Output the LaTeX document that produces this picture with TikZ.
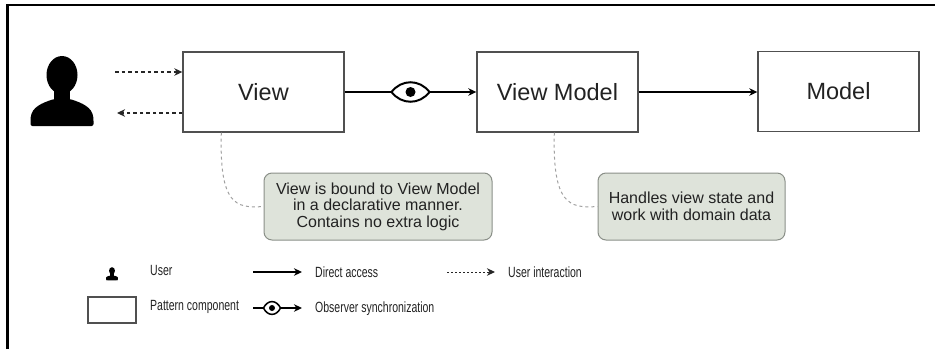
\documentclass[tikz,border=0pt]{standalone}
\usepackage{fontspec}
\setmainfont{Liberation Sans}
\newfontfamily\narrowfont[FakeStretch=0.71]{Liberation Sans}
\usetikzlibrary{arrows.meta,calc}
\definecolor{boxline}{HTML}{505050}
\definecolor{notefill}{HTML}{DEE3DA}
\definecolor{noteline}{HTML}{8A8F88}
\definecolor{linkgray}{HTML}{A0A0A0}
\definecolor{txt}{HTML}{222222}
\tikzset{
  comp/.style={draw=boxline, line width=1.4pt, fill=white, minimum width=161pt, minimum height=80pt, inner sep=0pt, font=\fontsize{23.5}{26}\selectfont, text=txt},
  note/.style={draw=noteline, line width=1pt, fill=notefill, rounded corners=8pt, inner sep=0pt, align=center, font=\fontsize{16}{16.5}\selectfont, text=txt},
  legtext/.style={anchor=west, inner sep=0pt, font=\narrowfont\fontsize{14.8}{16}\selectfont, text=txt},
  tip/.style={-{Stealth[length=8pt,width=7.5pt,inset=2.5pt]}},
  direct/.style={tip, line width=1.3pt, draw=black},
  userint/.style={tip, line width=1.2pt, draw=black!85, dash pattern=on 3.5pt off 3pt},
  userdot/.style={tip, line width=1pt, draw=black!85, dash pattern=on 2pt off 2pt},
  link/.style={draw=linkgray, line width=1pt, dash pattern=on 3pt off 3pt},
  eye/.pic={
    \filldraw[fill=white, draw=black, line width=2pt] (-19,0) .. controls (-9,-13) and (9,-13) .. (19,0) .. controls (9,13) and (-9,13) .. (-19,0);
    \fill[black] (0,0) circle (5);
  },
  smalleye/.pic={
    \filldraw[fill=white, draw=black, line width=1.5pt] (-8.5,0) .. controls (-4.5,-8.5) and (4.5,-8.5) .. (8.5,0) .. controls (4.5,8.5) and (-4.5,8.5) .. (-8.5,0);
    \fill[black] (0,0) circle (3);
  },
  person/.pic={
    \fill[black] (0,-17) ellipse (15.5 and 19);
    \fill[black] (-8,-6) rectangle (8,10);
    \fill[black, rounded corners=2pt] (-31.5,34) -- (-31.5,27) .. controls (-30,15) and (-20,11) .. (-8,7) -- (8,7) .. controls (20,11) and (30,15) .. (31.5,27) -- (31.5,34) -- cycle;
  }
}
\begin{document}
\begin{tikzpicture}[x=1pt,y=-1pt]
\useasboundingbox (0,0) rectangle (935,349);
% frame
\draw[line width=2.4pt, black] (7.5,349) -- (7.5,5) -- (935,5);

% user
\pic at (62,92) {person};
\coordinate (u1) at (115,72);
\coordinate (u2) at (117,113);

% components
\node[comp] (view) at (263.5,92) {View};
\node[comp] (vm) at (557.5,92) {View Model};
\node[comp] (model) at (838.5,91.5) {Model};

% user interaction
\draw[userint] (u1) -- (view.west |- u1);
\draw[userint] (view.west |- u2) -- (u2);

% observer sync
\draw[direct] (view.east) -- (vm.west) coordinate[pos=0.5] (eye1);
\pic at (eye1) {eye};
% direct access
\draw[direct] (vm.east) -- (model.west |- vm.east);

% notes
\node[note, minimum width=228pt, minimum height=67pt] (note1) at (378,206.5) {View is bound to View Model\\in a declarative manner.\\Contains no extra logic};
\node[note, minimum width=187pt, minimum height=67pt] (note2) at (691.5,206.5) {Handles view state and\\work with domain data};
\coordinate (v1) at ($(view.south west)+(39,0)$);
\coordinate (m1) at ($(vm.south west)+(78,0)$);
\draw[link] (v1) .. controls ($(v1)+(-2,72)$) and ($(note1.west)+(-28,2)$) .. (note1.west);
\draw[link] (m1) .. controls ($(m1)+(-2,72)$) and ($(note2.west)+(-28,2)$) .. (note2.west);

% legend
\pic[scale=0.19] at (112,274) {person};
\node[legtext] (lu) at (150,270) {User};
\node[draw=boxline, line width=1.2pt, minimum width=48pt, minimum height=26pt, inner sep=0pt] (lbox) at (112,310) {};
\node[legtext] (lp) at (150,307) {Pattern component};
\coordinate (la1) at (253,272);
\coordinate (la2) at (302,272);
\draw[direct] (la1) -- (la2);
\node[legtext] (ld) at (315,272) {Direct access};
\coordinate (lo1) at (253,308);
\coordinate (lo2) at (302,308);
\draw[direct] (lo1) -- (lo2);
\pic at (272,308) {smalleye};
\node[legtext] (lo) at (315,309) {Observer synchronization};
\coordinate (li1) at (447,272);
\coordinate (li2) at (495,272);
\draw[userdot] (li1) -- (li2);
\node[legtext] (li) at (508,272) {User interaction};
\end{tikzpicture}
\end{document}
